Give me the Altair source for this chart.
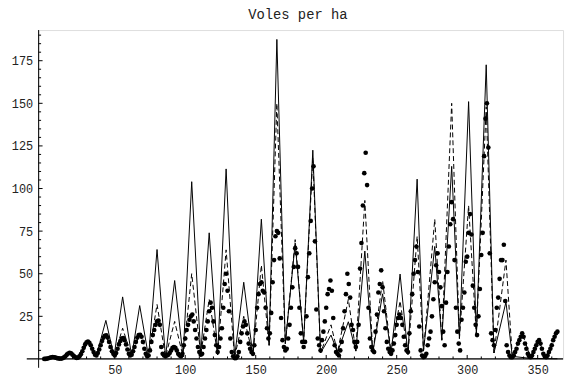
import altair as alt
import pandas as pd

# ---- data ----
# solid line (model) vertices
solid_x = [0, 5, 10, 13, 18, 24, 31, 37, 43.7, 49.5, 55.6, 62, 67.7, 74, 80, 86, 92.5, 98.5, 104.6, 111,
           117, 123, 129, 135, 141.5, 148, 154, 159.5, 165, 171, 178, 184, 190.5, 196, 203.4, 208, 215.7, 221,
           227.4, 233, 240, 246, 252.4, 258, 264.5, 269, 277, 282, 289, 294.5, 301, 306.5, 313.5, 319, 327.5,
           332, 345, 364]
solid_y = [0, 1.0, 0.3, 0.5, 3.6, 0.7, 10.2, 2.0, 22.6, 1.5, 36.4, 1.5, 31.3, 1.2, 64.2, 1.2, 46, 1.2, 104, 2.5,
           74, 2.5, 111.5, 1, 45, 2, 82, 8, 187.5, 9, 68, 10, 122.5, 3.5, 14, 3.9, 21.8, 4.6,
           63.3, 3.5, 38.2, 3.5, 49.8, 2.6, 105.5, 4.6, 66, 11, 113, 12, 151, 14, 172.6, 3.5, 33.4,
           1.5, 0.3, 0.1]

# dashed line vertices
dash_x = [0, 5, 10, 13, 18, 24, 31, 37, 43.7, 49.5, 55.6, 62, 67.7, 74, 80, 86, 92.5, 98.5, 104.6, 111,
          117, 123, 129, 135, 141.5, 148, 154, 159.5, 165, 171, 178, 184, 190.5, 196, 203.4, 208, 215.7, 221,
          227.4, 233, 240, 246, 252.4, 258, 264.5, 269, 277, 282, 289, 294.5, 301, 306.5, 313.5, 319, 327.5,
          332, 339, 345, 350.5, 356, 363]
dash_y = [0, 0.8, 0.3, 0.5, 3.3, 0.7, 9.5, 2.0, 14, 1.5, 18, 1.5, 15, 1.2, 32, 1.2, 22, 1.2, 50, 2.5,
          35, 2.5, 64, 1, 25, 2, 55, 8, 150, 9, 70, 10, 118, 3.5, 20, 3.9, 35, 4.6,
          93, 3.5, 46, 3.5, 34, 2.6, 72, 4.6, 82, 11, 150, 12, 90, 14, 148, 3.5, 58,
          1.5, 15, 1, 11, 1, 16]

# observed voles per ha, one value per time step starting at 0
dots_y = [
    0, 0, 0.2, 0.4, 0.7, 1.0, 1.1, 1.0, 0.8, 0.5, 0.3, 0.2, 0.2,
    0.4, 0.9, 1.6, 2.5, 3.2, 3.6, 3.3, 2.5, 1.7, 1.0, 0.6, 0.8,
    1.5, 2.8, 4.5, 6.5, 8.5, 9.8, 10.2, 9.5, 8.0, 6.0, 4.0, 2.5, 2.0,
    3.5, 5.5, 8.0, 10.5, 12.5, 13.5, 13.8, 12.5, 10.0, 7.0, 4.5, 3.0,
    2.0, 3.5, 6.0, 8.5, 10.5, 12.0, 12.3, 11.0, 8.5, 5.5, 3.0, 2.0,
    2.5, 4.5, 7.0, 10.0, 12.5, 14.0, 14.2, 13.0, 10.0, 6.0, 3.0, 1.5,
    2.0, 5.0, 10.0, 14.0, 17.0, 20.0, 22.0, 22.5, 20.0, 7.0, 3.0, 2.0,
    1.5, 2.0, 2.5, 3.5, 5.0, 6.5, 7.0, 6.5, 5.0, 3.0, 2.0, 1.5,
    3.0, 8.0, 12.0, 17.0, 20.0, 23.0, 25.0, 26.0, 22.0, 17.0, 12.0, 7.0, 4.0,
    2.5, 3.0, 7.0, 12.0, 17.0, 22.0, 28.0, 33.0, 30.0, 22.0, 14.0, 8.0,
    4.0, 7.0, 12.0, 18.0, 30.0, 44.0, 50.0, 40.0, 28.0, 12.0, 4.0, 1.5, 0.5,
    0.5, 1.5, 4.0, 10.0, 15.0, 19.0, 22.0, 20.0, 15.0, 9.0, 6.0, 4.0,
    3.0, 8.0, 17.0, 30.0, 38.0, 44.0, 45.0, 40.0, 39.0, 30.0, 18.0, 12.0, 15.0,
    27.0, 45.0, 58.0, 72.0, 75.0, 74.0, 59.0, 24.0, 11.0, 7.0, 5.0,
    6.0, 12.0, 20.0, 30.0, 42.0, 54.0, 65.0, 62.0, 54.0, 30.0, 15.0, 10.0, 7.0,
    10.0, 25.0, 48.0, 62.0, 81.0, 100.0, 113.0, 69.0, 29.0, 12.0,
    8.0, 5.0, 11.0, 16.0, 22.0, 30.0, 38.0, 41.0, 46.0, 40.0, 24.0, 8.0, 4.0, 3.0, 2.0,
    5.0, 10.0, 18.0, 28.0, 38.0, 50.0, 44.0, 36.0, 20.0, 17.0, 10.0, 7.0,
    10.0, 20.0, 53.0, 68.0, 90.0, 109.0, 121.0, 102.0, 30.0, 12.0, 7.0, 5.0, 4.0,
    16.0, 26.0, 39.0, 44.0, 52.0, 42.0, 28.0, 18.0, 10.0, 6.0, 4.0, 3.0,
    5.0, 9.0, 14.0, 20.0, 24.0, 26.0, 24.0, 20.0, 13.0, 8.0, 5.0, 4.0,
    15.0, 28.0, 38.0, 50.0, 58.0, 66.0, 51.0, 19.0, 5.0, 2.0, 1.0, 1.5, 3.0,
    8.0, 12.0, 16.0, 25.0, 35.0, 45.0, 55.0, 62.0, 51.0, 42.0, 31.0, 16.0, 8.0,
    33.0, 51.0, 66.0, 79.0, 92.0, 82.0, 58.0, 30.0, 16.0, 9.0, 5.0,
    23.0, 30.0, 39.0, 57.0, 60.0, 74.0, 85.0, 73.0, 43.0, 30.0, 20.0, 14.0,
    25.0, 41.0, 61.0, 74.0, 119.0, 141.0, 150.0, 124.0, 62.0, 15.0, 11.0, 8.0, 17.0,
    30.0, 36.0, 47.0, 58.0, 58.0, 67.0, 34.0, 8.0, 4.0, 2.0, 1.0, 1.0,
    2.0, 4.0, 6.0, 9.0, 11.0, 13.0, 15.0, 13.0, 9.0, 6.0, 3.0, 1.5, 1.0,
    2.0, 4.0, 6.0, 8.0, 10.0, 11.0, 9.0, 6.0, 3.0, 1.5, 1.0,
    2.0, 4.0, 6.0, 8.0, 11.0, 13.0, 15.0, 16.0,
]
dots_x = list(range(len(dots_y)))

# axis ticks
x_major = [50, 100, 150, 200, 250, 300, 350]
x_minor = [10, 20, 30, 40, 60, 70, 80, 90, 110, 120, 130, 140, 160, 170, 180, 190, 210, 220, 230, 240,
           260, 270, 280, 290, 310, 320, 330, 340, 360]
y_major = [25, 50, 75, 100, 125, 150, 175]
y_minor = [5, 10, 15, 20, 30, 35, 40, 45, 55, 60, 65, 70, 80, 85, 90, 95, 105, 110, 115, 120,
           130, 135, 140, 145, 155, 160, 165, 170, 180, 185, 190]

TITLE = "Voles per ha"
FONT = "Liberation Mono"
TXT = "#222222"

W, H = 531, 333
xs = alt.Scale(domain=[-4, 368], nice=False, zero=False)
ys = alt.Scale(domain=[0, 193], nice=False, zero=False)

x_axis = alt.Axis(values=x_major, domain=False, ticks=False, tickSize=0, grid=False, title=None,
                  labelFont=FONT, labelFontSize=12, labelColor=TXT, labelPadding=6, labelFlush=False)
y_axis = alt.Axis(values=y_major, domain=False, ticks=False, tickSize=0, grid=False, title=None,
                  labelFont=FONT, labelFontSize=12, labelColor=TXT, labelPadding=6)

one = pd.DataFrame({"a": [0]})

xline = alt.Chart(one).mark_rule(color="black", strokeWidth=1.2).encode(
    x=alt.value(-12), x2=alt.value(W), y=alt.value(H))
yline = alt.Chart(one).mark_rule(color="black", strokeWidth=1).encode(
    x=alt.value(0), y=alt.value(0), y2=alt.value(H + 9))

xt_major = alt.Chart(pd.DataFrame({"t": x_major})).mark_rule(color="black").encode(
    x=alt.X("t:Q", scale=xs), y=alt.value(H), y2=alt.value(H - 4))
xt_minor = alt.Chart(pd.DataFrame({"t": x_minor})).mark_rule(color="black").encode(
    x=alt.X("t:Q", scale=xs), y=alt.value(H), y2=alt.value(H - 2.5))
yt_major = alt.Chart(pd.DataFrame({"t": y_major})).mark_rule(color="black").encode(
    y=alt.Y("t:Q", scale=ys), x=alt.value(0), x2=alt.value(4))
yt_minor = alt.Chart(pd.DataFrame({"t": y_minor})).mark_rule(color="black").encode(
    y=alt.Y("t:Q", scale=ys), x=alt.value(0), x2=alt.value(2.5))

solid = alt.Chart(pd.DataFrame({"x": solid_x, "y": solid_y})).mark_line(
    color="black", strokeWidth=1).encode(
    x=alt.X("x:Q", scale=xs, axis=x_axis), y=alt.Y("y:Q", scale=ys, axis=y_axis))
dashed = alt.Chart(pd.DataFrame({"x": dash_x, "y": dash_y})).mark_line(
    color="black", strokeWidth=1, strokeDash=[5, 3]).encode(
    x=alt.X("x:Q", scale=xs), y=alt.Y("y:Q", scale=ys))
dots = alt.Chart(pd.DataFrame({"x": dots_x, "y": dots_y})).mark_circle(
    color="black", size=22, opacity=1).encode(
    x=alt.X("x:Q", scale=xs), y=alt.Y("y:Q", scale=ys))

chart = alt.layer(solid, dashed, dots, xline, yline, xt_major, xt_minor, yt_major, yt_minor).properties(
    width=W, height=H,
    title=alt.TitleParams(TITLE, font=FONT, fontSize=14, fontWeight="normal", color=TXT,
                          anchor="middle", offset=8, dx=-3),
    autosize=alt.AutoSizeParams(type="none"),
    padding={"left": 31, "top": 20, "right": 4, "bottom": 17},
).configure_view(stroke=None).configure(background="white")

chart.save("out.html", embed_options={"renderer": "svg", "actions": False})
